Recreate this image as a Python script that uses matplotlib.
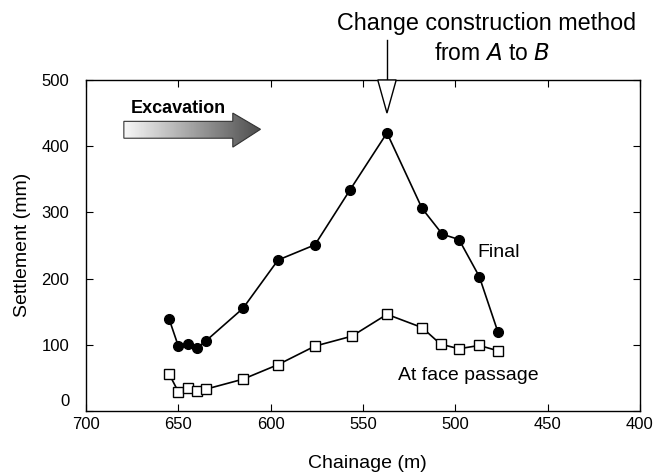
import numpy as np
import matplotlib
matplotlib.use("Agg")
import matplotlib.pyplot as plt
import matplotlib.transforms as mtransforms
from matplotlib.patches import Polygon

plt.rcParams['font.family'] = ['Liberation Sans', 'DejaVu Sans']

# Chainage (m) and settlement (mm)
final_ch = [655, 650, 645, 640, 635, 615, 596, 576, 557, 537, 518, 507, 498, 487, 477]
final_set = [139, 98, 101, 95, 106, 155, 228, 251, 334, 420, 306, 267, 259, 203, 120]

face_ch = [655, 650, 645, 640, 635, 615, 596, 576, 556, 537, 518, 508, 498, 487, 477]
face_set = [56, 29, 35, 30, 33, 48, 70, 98, 113, 146, 126, 101, 94, 99, 91]

change_at = 537

fig = plt.figure(figsize=(6.53, 4.76), dpi=100)
ax = fig.add_axes([0.1317, 0.1366, 0.8483, 0.6954])

ax.plot(final_ch, final_set, '-o', color='black', lw=1.2, ms=7, mfc='black')
ax.plot(face_ch, face_set, '-s', color='black', lw=1.2, ms=6.8, mfc='white', mew=1.0)

ax.set_xlim(700, 400)
ax.set_ylim(0, 500)
ax.set_xticks([700, 650, 600, 550, 500, 450, 400])
ax.set_yticks([0, 100, 200, 300, 400, 500])
ax.tick_params(direction='in', top=True, right=True, labelsize=12, length=5)
ax.tick_params(axis='x', pad=4)
ax.tick_params(axis='y', pad=12)
for s in ax.spines.values():
    s.set_linewidth(1.0)

# lift the "0" label so it clears the "700" below it
fig.canvas.draw()
zero_lbl = ax.get_yticklabels()[0]
zero_lbl.set_transform(zero_lbl.get_transform() +
                       mtransforms.ScaledTranslation(0, 8 / 72, fig.dpi_scale_trans))

fig.text(367 / 653, 1 - 463 / 476, 'Chainage (m)', ha='center', va='center',
         fontsize=14)
fig.text(23 / 653, 1 - 245 / 476, 'Settlement (mm)', ha='center', va='center',
         rotation=90, fontsize=14)

ax.text(488, 240, 'Final', fontsize=14, va='center')
ax.text(531, 53, 'At face passage', fontsize=14, va='center')

# construction change marker above the peak
ax.plot([change_at, change_at], [500, 561], color='black', lw=1.0, clip_on=False)
head = Polygon([[change_at - 5, 500], [change_at + 5, 500], [change_at, 450]],
               closed=True, facecolor='white', edgecolor='black', lw=1.0,
               clip_on=False, zorder=5)
ax.add_patch(head)
ax.text(483, 586, 'Change construction method', ha='center', va='center',
        fontsize=16.8, clip_on=False)
ax.text(480, 540, 'from $\\mathit{A}$ to $\\mathit{B}$', ha='center',
        va='center', fontsize=16.5, clip_on=False)

# excavation direction arrow with shaded fill
ax.text(676, 457, 'Excavation', fontsize=13, fontweight='bold', va='center')
arrow_pts = [[679.5, 437.5], [620.5, 437.5], [620.5, 450], [605.5, 425.5],
             [620.5, 398.5], [620.5, 412], [679.5, 412]]
arrow = Polygon(arrow_pts, closed=True, facecolor='none', edgecolor='#333333',
                lw=0.8, zorder=4)
ax.add_patch(arrow)
grad = np.linspace(0.97, 0.3, 200).reshape(1, -1)
img = ax.imshow(grad, extent=[679.5, 605.5, 398.5, 450], cmap='gray', vmin=0,
                vmax=1, aspect='auto', zorder=3)
img.set_clip_path(arrow)
ax.set_xlim(700, 400)
ax.set_ylim(0, 500)

fig.savefig('out.png', dpi=100)
